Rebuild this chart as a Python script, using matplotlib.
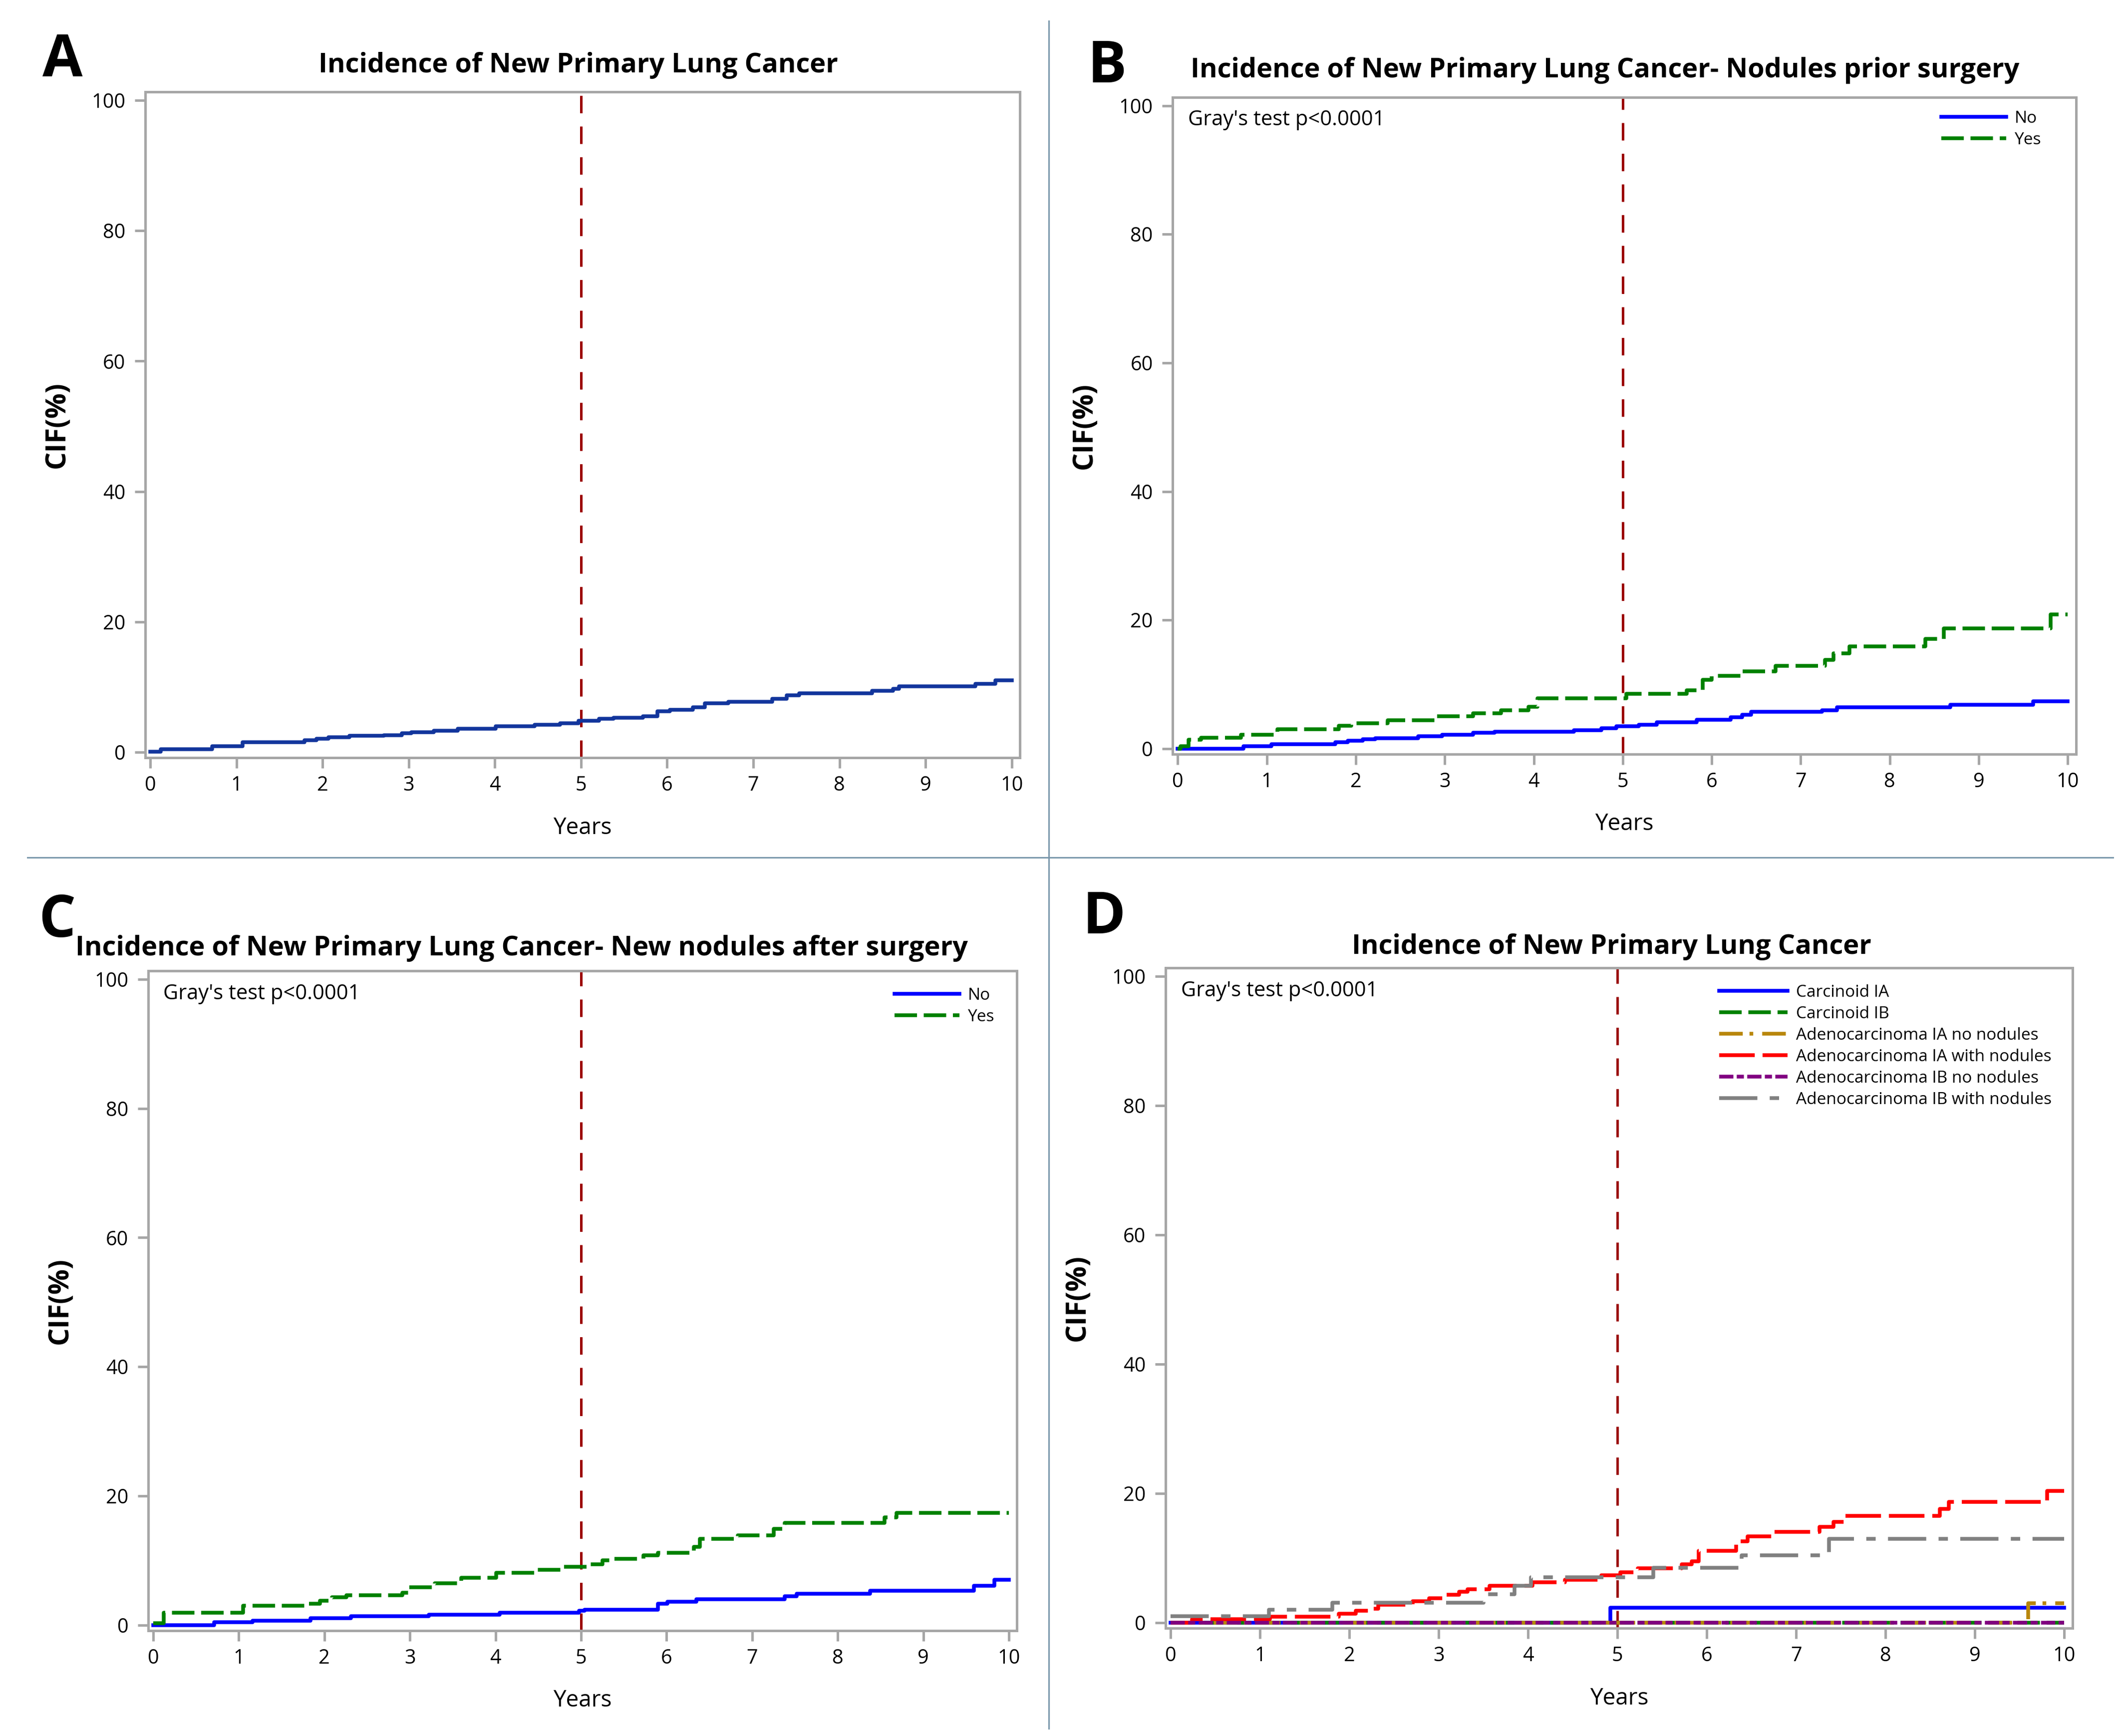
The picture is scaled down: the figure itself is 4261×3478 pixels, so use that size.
import numpy as np
import matplotlib
matplotlib.use("Agg")
import matplotlib.pyplot as plt
from matplotlib.lines import Line2D

plt.rcParams['font.family'] = ['Open Sans', 'DejaVu Sans']

# ---- data (CIF in %) ----
a_t = [0, 0.12, 0.72, 1.07, 1.79, 1.93, 2.07, 2.31, 2.71, 2.92, 3.03, 3.29, 3.57, 4.01, 4.46, 4.76,
       4.97, 5.21, 5.38, 5.72, 5.89, 6.03, 6.30, 6.44, 6.71, 7.22, 7.39, 7.53, 8.38, 8.62, 8.69, 9.58, 9.81]
a_y = [0.1, 0.5, 0.9, 1.5, 1.85, 2.1, 2.3, 2.5, 2.6, 2.9, 3.1, 3.3, 3.6, 4.0, 4.25, 4.45,
       4.8, 5.1, 5.3, 5.5, 6.3, 6.5, 6.9, 7.5, 7.7, 8.2, 8.7, 9.0, 9.4, 9.7, 10.1, 10.5, 11.0]

b_no_t = [0, 0.74, 1.05, 1.77, 1.91, 2.08, 2.22, 2.70, 2.97, 3.32, 3.56, 4.45, 4.76, 4.93, 5.18, 5.38,
          5.83, 6.21, 6.34, 6.44, 7.24, 7.41, 8.68, 9.61]
b_no_y = [0, 0.4, 0.7, 1.0, 1.2, 1.5, 1.6, 1.9, 2.2, 2.45, 2.65, 2.85, 3.2, 3.45, 3.75, 4.1,
          4.5, 4.85, 5.3, 5.7, 6.0, 6.4, 6.8, 7.4]
b_yes_t = [0, 0.03, 0.12, 0.26, 0.71, 1.12, 1.81, 1.95, 2.36, 2.91, 3.32, 3.63, 3.94, 4.04, 5.04, 5.72,
           5.90, 6.00, 6.34, 6.72, 7.27, 7.37, 7.55, 8.40, 8.61, 9.81]
b_yes_y = [0, 0.4, 1.4, 1.7, 2.2, 3.0, 3.6, 3.95, 4.4, 5.0, 5.5, 6.0, 6.5, 7.8, 8.5, 9.1,
           10.7, 11.3, 12.0, 12.9, 13.8, 14.8, 15.9, 17.1, 18.7, 20.9]

c_no_t = [0, 0.71, 1.16, 1.84, 2.31, 3.22, 4.05, 4.98, 5.04, 5.90, 6.01, 6.35, 7.38, 7.52, 8.38, 9.59, 9.83]
c_no_y = [0, 0.45, 0.7, 1.1, 1.35, 1.6, 1.9, 2.2, 2.4, 3.3, 3.6, 4.0, 4.5, 4.85, 5.35, 6.1, 7.0]
c_yes_t = [0, 0.12, 1.05, 1.81, 1.95, 2.09, 2.26, 2.91, 2.98, 3.29, 3.60, 4.01, 4.49, 4.77, 5.11, 5.25,
           5.39, 5.73, 5.90, 6.32, 6.39, 6.83, 7.25, 7.38, 8.55, 8.69]
c_yes_y = [0.3, 1.9, 3.0, 3.35, 3.8, 4.3, 4.6, 5.0, 5.9, 6.5, 7.3, 8.1, 8.6, 9.0, 9.4, 10.0,
           10.3, 10.8, 11.2, 12.1, 13.35, 13.9, 14.9, 15.8, 16.7, 17.4]

d_labels = ['Carcinoid IA', 'Carcinoid IB', 'Adenocarcinoma IA no nodules',
            'Adenocarcinoma IA with nodules', 'Adenocarcinoma IB no nodules',
            'Adenocarcinoma IB with nodules']
d_t = [
    [0, 4.92],
    [0],
    [0, 9.60],
    [0, 0.24, 1.11, 1.88, 2.07, 2.27, 2.32, 2.71, 2.89, 3.09, 3.23, 3.32, 3.57, 4.05, 4.41, 4.82,
     5.03, 5.23, 5.72, 5.83, 5.91, 6.33, 6.46, 6.75, 7.26, 7.42, 7.55, 8.61, 8.71, 9.81],
    [0],
    [0, 1.10, 1.81, 3.50, 3.85, 4.03, 5.40, 6.39, 7.37],
]
d_y = [
    [0, 2.3],
    [0],
    [0, 3.05],
    [0, 0.55, 0.9, 1.4, 1.85, 2.2, 2.75, 3.3, 3.75, 4.3, 4.75, 5.2, 5.7, 6.25, 6.65, 7.3,
     7.8, 8.4, 9.0, 9.5, 11.1, 12.6, 13.35, 14.05, 14.8, 15.6, 16.5, 17.6, 18.65, 20.4],
    [0],
    [1.0, 2.0, 3.1, 4.4, 5.7, 7.0, 8.5, 10.4, 13.0],
]
d_colors = ['#0000ff', '#008000', '#b8860b', '#ff0000', '#800080', '#808080']
d_dashes = [None, (6.0, 1.8), (6.3, 1.8, 1.0, 2.4), (9.5, 2.1), (3.8, 0.9, 1.9, 0.9), (10.2, 3.3, 2.5, 3.3)]

titles = ['Incidence of New Primary Lung Cancer',
          'Incidence of New Primary Lung Cancer- Nodules prior surgery',
          'Incidence of New Primary Lung Cancer- New nodules after surgery',
          'Incidence of New Primary Lung Cancer']

fig = plt.figure(figsize=(4261 / 300, 3478 / 300), dpi=300)

axA = fig.add_axes([0.0683, 0.5635, 0.4112, 0.3836])
axB = fig.add_axes([0.5513, 0.5656, 0.4248, 0.3784])
axC = fig.add_axes([0.0697, 0.0607, 0.4084, 0.3801])
axD = fig.add_axes([0.5480, 0.0621, 0.4264, 0.3804])

LW = 1.8


def style(ax):
    ax.set_xlim(-0.058, 10.095)
    ax.set_ylim(-0.85, 101.3)
    ax.set_xticks(range(0, 11))
    ax.set_yticks(range(0, 101, 20))
    for s in ax.spines.values():
        s.set_color('#a6a6a6')
        s.set_linewidth(1.2)
    ax.tick_params(length=5, width=1.2, color='#a6a6a6', labelsize=9.5, labelcolor='black')
    ax.tick_params(axis='x', pad=3.5)
    ax.tick_params(axis='y', pad=4.5)
    ax.set_xlabel('Years', fontsize=11, labelpad=10)
    ax.set_ylabel('CIF(%)', fontsize=13.5, fontweight='bold', labelpad=10)
    ax.axvline(5, color='#9b0000', lw=1.2, dashes=(7, 5.3), zorder=1)


def curve(ax, t, y, dashes=None, **kw):
    line, = ax.step(np.r_[t, 10], np.r_[y, y[-1]], where='post', lw=LW, **kw)
    if dashes:
        line.set_dashes(dashes)
    return line


for ax in (axA, axB, axC, axD):
    style(ax)

# A
curve(axA, a_t, a_y, color='#12359c')

# B and C
for ax, tn, yn, ty, yy in ((axB, b_no_t, b_no_y, b_yes_t, b_yes_y),
                           (axC, c_no_t, c_no_y, c_yes_t, c_yes_y)):
    curve(ax, tn, yn, color='#0000ff', label='No')
    curve(ax, ty, yy, color='#008000', dashes=(6.0, 1.8), label='Yes')
    ax.text(0.017, 0.957, "Gray's test p<0.0001", transform=ax.transAxes, fontsize=10,
            ha='left', va='baseline')

leg_kw = dict(loc='upper left', frameon=False, fontsize=8, handletextpad=0.5,
              labelspacing=0.3, borderpad=0, borderaxespad=0)
axB.legend(bbox_to_anchor=(0.851, 0.98), handlelength=3.9, **leg_kw)
axC.legend(bbox_to_anchor=(0.859, 0.975), handlelength=3.9, **leg_kw)

# D
for t, y, c, ds, lab in zip(d_t, d_y, d_colors, d_dashes, d_labels):
    curve(axD, t, y, color=c, dashes=ds, label=lab)
axD.text(0.017, 0.957, "Gray's test p<0.0001", transform=axD.transAxes, fontsize=10,
         ha='left', va='baseline')
axD.legend(bbox_to_anchor=(0.6105, 0.975), handlelength=4.1, **leg_kw)

# titles and panel letters
title_pos = [(0.2718, 0.9583), (0.7545, 0.9554), (0.2452, 0.4497), (0.7576, 0.4505)]
for (x, y), s in zip(title_pos, titles):
    fig.text(x, y, s, ha='center', va='baseline', fontsize=13, fontweight='bold')

letter_pos = [(0.0293, 0.956), (0.5205, 0.9525), (0.0269, 0.4604), (0.5191, 0.4623)]
for (x, y), s in zip(letter_pos, 'ABCD'):
    fig.text(x, y, s, ha='center', va='baseline', fontsize=28, fontweight='bold')

# panel dividers
fig.add_artist(Line2D([0.4931, 0.4931], [0.0043, 0.988], color='#7896aa', lw=0.7))
fig.add_artist(Line2D([0.0129, 0.9934], [0.506, 0.506], color='#7896aa', lw=0.7))

fig.savefig('out.png', dpi=300)
